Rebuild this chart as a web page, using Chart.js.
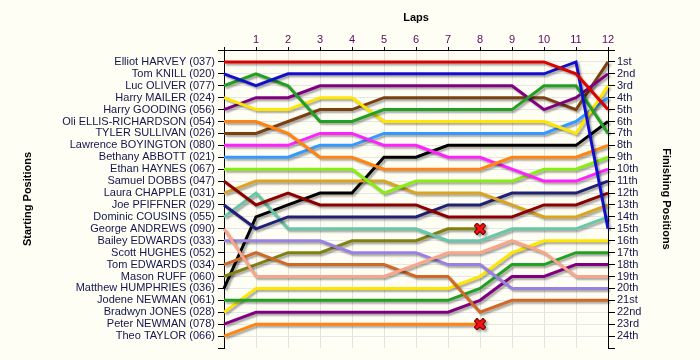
<!DOCTYPE html>
<html>
<head>
<meta charset="utf-8">
<script src="https://cdn.jsdelivr.net/npm/chart.js@4"></script>
<style>
  html, body { margin: 0; padding: 0; background: #fffef4; }
  #wrap { width: 700px; height: 360px; }
</style>
</head>
<body>
<div id="wrap"><canvas id="lapChart"></canvas></div>
<script>
(function () {
    "use strict";

    // --- Data -----------------------------------------------------------
    const laps = [0, 1, 2, 3, 4, 5, 6, 7, 8, 9, 10, 11, 12];

    const drivers = [
        "Elliot HARVEY (037)", "Tom KNILL (020)", "Luc OLIVER (077)", "Harry MAILER (024)",
        "Harry GOODING (056)", "Oli ELLIS-RICHARDSON (054)", "TYLER SULLIVAN (026)",
        "Lawrence BOYINGTON (080)", "Bethany ABBOTT (021)", "Ethan HAYNES (067)",
        "Samuel DOBBS (047)", "Laura CHAPPLE (031)", "Joe PFIFFNER (029)",
        "Dominic COUSINS (055)", "George ANDREWS (090)", "Bailey EDWARDS (033)",
        "Scott HUGHES (052)", "Tom EDWARDS (034)", "Mason RUFF (060)",
        "Matthew HUMPHRIES (036)", "Jodene NEWMAN (061)", "Bradwyn JONES (028)",
        "Peter NEWMAN (078)", "Theo TAYLOR (066)"
    ];

    const finishLabels = [
        "1st", "2nd", "3rd", "4th", "5th", "6th", "7th", "8th", "9th", "10th", "11th", "12th",
        "13th", "14th", "15th", "16th", "17th", "18th", "19th", "20th", "21st", "22nd", "23rd", "24th"
    ];

    // position at each lap (index = lap), shorter array = retired
    const car037 = [1, 1, 1, 1, 1, 1, 1, 1, 1, 1, 1, 2, 5];
    const car020 = [2, 3, 2, 2, 2, 2, 2, 2, 2, 2, 2, 1, 15];
    const car077 = [3, 2, 3, 6, 6, 5, 5, 5, 5, 5, 3, 3, 7];
    const car024 = [4, 5, 5, 4, 4, 6, 6, 6, 6, 6, 6, 7, 3];
    const car056 = [5, 4, 4, 3, 3, 3, 3, 3, 3, 3, 5, 4, 2];
    const car054 = [6, 6, 7, 9, 9, 10, 10, 10, 10, 9, 9, 9, 8];
    const car026 = [7, 7, 6, 5, 5, 4, 4, 4, 4, 4, 4, 5, 1];
    const car080 = [8, 8, 8, 7, 7, 8, 8, 9, 9, 10, 11, 11, 10];
    const car021 = [9, 9, 9, 8, 8, 7, 7, 7, 7, 7, 7, 6, 4];
    const car067 = [10, 10, 10, 10, 10, 12, 11, 11, 11, 11, 10, 10, 9];
    const car047 = [11, 13, 12, 13, 13, 13, 13, 14, 14, 14, 13, 13, 12];
    const car031 = [12, 11, 11, 11, 11, 11, 12, 12, 12, 13, 14, 14, 13];
    const car029 = [13, 15, 14, 14, 14, 14, 14, 13, 13, 12, 12, 12, 11];
    const car055 = [14, 12, 15, 15, 15, 15, 15, 16, 16, 15, 15, 15, 14];
    const car090 = [15, 19, 19, 19, 19, 19, 18, 17, 17, 16, 17, 19, 19];
    const car033 = [16, 16, 16, 16, 17, 17, 17, 18, 18, 20, 20, 20, 20];
    const car052 = [];
    const car034 = [18, 17, 18, 18, 18, 18, 19, 19, 22, 21, 21, 21, 21];
    const car060 = [19, 18, 17, 17, 16, 16, 16, 15, 15];
    const car036 = [20, 14, 13, 12, 12, 9, 9, 8, 8, 8, 8, 8, 6];
    const car061 = [21, 21, 21, 21, 21, 21, 21, 21, 20, 18, 18, 17, 17];
    const car028 = [22, 20, 20, 20, 20, 20, 20, 20, 19, 17, 16, 16, 16];
    const car078 = [23, 22, 22, 22, 22, 22, 22, 22, 21, 19, 19, 18, 18];
    const car066 = [24, 23, 23, 23, 23, 23, 23, 23, 23];

    const positions = [
        car037, car020, car077, car024, car056, car054, car026, car080, car021, car067,
        car047, car031, car029, car055, car090, car033, car052, car034, car060, car036,
        car061, car028, car078, car066
    ];

    // --- Styles ---------------------------------------------------------
    const lineColors = [
        "#dd0000", "#1010cc", "#22a022", "#ffe600", "#800080", "#ff8410", "#7a4010",
        "#ff22ff", "#3399ff", "#88ee11", "#8b0000", "#daa520", "#202075", "#66c8a8",
        "#f8a58a", "#9a80e0", "#cccccc", "#d06828", "#808010", "#000000", "#22a022",
        "#ffe600", "#800080", "#ff8410"
    ];

    const lastLap = laps[laps.length - 1];
    const FONT = "'Liberation Sans', Arial, sans-serif";

    // red cross marker for retirements
    const crossImg = document.createElement("canvas");
    crossImg.width = 12;
    crossImg.height = 12;
    (function () {
        const c = crossImg.getContext("2d");
        c.lineCap = "square";
        c.beginPath();
        c.moveTo(3, 3); c.lineTo(9, 9);
        c.moveTo(9, 3); c.lineTo(3, 9);
        c.strokeStyle = "#600000";
        c.lineWidth = 5;
        c.stroke();
        c.strokeStyle = "#ff1010";
        c.lineWidth = 3;
        c.stroke();
    })();

    function isRetirePoint(pos, i) {
        return pos.length > 0 && pos.length - 1 < lastLap && i === pos.length - 1;
    }

    const datasets = positions.map((pos, d) => ({
        label: drivers[d],
        data: pos.map((p, i) => ({ x: laps[i], y: p })),
        borderColor: lineColors[d],
        backgroundColor: lineColors[d],
        borderWidth: 3,
        tension: 0,
        fill: false,
        clip: false,
        pointRadius: ctx => isRetirePoint(pos, ctx.dataIndex) ? 5 : 0,
        pointStyle: ctx => isRetirePoint(pos, ctx.dataIndex) ? crossImg : "circle",
        pointHoverRadius: 0
    }));

    // soft drop shadow under every line
    const lineShadow = {
        id: "lineShadow",
        beforeDatasetDraw(chart) {
            const c = chart.ctx;
            c.save();
            c.shadowColor = "rgba(0,0,0,0.35)";
            c.shadowBlur = 2;
            c.shadowOffsetX = 2;
            c.shadowOffsetY = 2;
        },
        afterDatasetDraw(chart) {
            chart.ctx.restore();
        }
    };

    const gridFor = (ctx) => (ctx.tick && (ctx.tick.value === 0 || ctx.tick.value === 25)) ? "rgba(0,0,0,0)" : "#e6e6e6";

    // --- Chart ----------------------------------------------------------
    new Chart(document.getElementById("lapChart"), {
        type: "line",
        data: { datasets: datasets },
        plugins: [lineShadow],
        options: {
            responsive: true,
            maintainAspectRatio: false,
            animation: false,
            events: [],
            layout: { padding: { top: 0, right: 0, bottom: 12, left: 0 } },
            scales: {
                x: {
                    type: "linear",
                    position: "top",
                    min: 0,
                    max: 12,
                    afterBuildTicks: s => { s.ticks = laps.map(v => ({ value: v })); },
                    afterFit: s => { s.height = 50; },
                    title: {
                        display: true,
                        text: "Laps",
                        color: "#000",
                        font: { family: FONT, size: 11, weight: "bold" },
                        padding: { top: 11, bottom: 0 }
                    },
                    ticks: {
                        callback: v => v === 0 ? "" : String(v),
                        color: "#5a0a5a",
                        font: { family: FONT, size: 11 },
                        padding: 0,
                        maxRotation: 0,
                        autoSkip: false
                    },
                    grid: { color: "#e2e2e2", tickColor: "#000", tickLength: 3 },
                    border: { color: "#000", width: 1 }
                },
                y: {
                    type: "linear",
                    position: "left",
                    reverse: true,
                    min: 0,
                    max: 25,
                    afterBuildTicks: s => {
                        const t = [];
                        for (let v = 0; v <= 25; v++) t.push({ value: v });
                        s.ticks = t;
                    },
                    afterFit: s => { s.width = 224; },
                    title: {
                        display: true,
                        text: "Starting Positions",
                        color: "#000",
                        font: { family: FONT, size: 11, weight: "bold" },
                        padding: { top: 21, bottom: 0 }
                    },
                    ticks: {
                        callback: v => drivers[v - 1] || "",
                        color: "#141450",
                        font: { family: FONT, size: 11 },
                        padding: 3,
                        autoSkip: false
                    },
                    grid: { color: gridFor, tickColor: "#000", tickLength: 6 },
                    border: { color: "#000", width: 1 }
                },
                y2: {
                    type: "linear",
                    position: "right",
                    reverse: true,
                    min: 0,
                    max: 25,
                    afterBuildTicks: s => {
                        const t = [];
                        for (let v = 0; v <= 25; v++) t.push({ value: v });
                        s.ticks = t;
                    },
                    afterFit: s => { s.width = 92; },
                    title: {
                        display: true,
                        text: "Finishing Positions",
                        color: "#000",
                        font: { family: FONT, size: 11, weight: "bold" },
                        padding: { top: 27, bottom: 0 }
                    },
                    ticks: {
                        callback: v => finishLabels[v - 1] || "",
                        color: "#141450",
                        font: { family: FONT, size: 11 },
                        padding: 2,
                        autoSkip: false
                    },
                    grid: { drawOnChartArea: false, tickColor: "#000", tickLength: 7 },
                    border: { color: "#000", width: 1 }
                }
            },
            plugins: {
                legend: { display: false },
                tooltip: { enabled: false }
            }
        }
    });
})();
</script>
</body>
</html>
